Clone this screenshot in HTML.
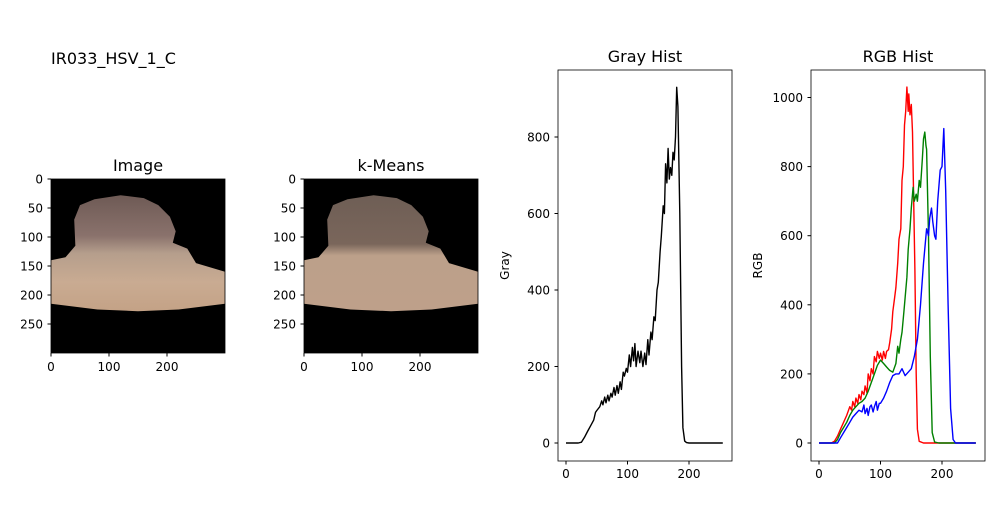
<!DOCTYPE html>
<html><head><meta charset="utf-8"><style>
body{margin:0;background:#fff;}
svg text{font-family:"DejaVu Sans","Liberation Sans",sans-serif;fill:#000;}
</style></head><body>
<svg id="fig" width="1000" height="500" viewBox="0 0 1000 500" xmlns="http://www.w3.org/2000/svg">
<defs>
<linearGradient id="skin" x1="0" y1="0" x2="0" y2="1">
<stop offset="0" stop-color="#6e5a55"/><stop offset="0.35" stop-color="#8a726c"/><stop offset="0.5" stop-color="#b59e8c"/><stop offset="0.75" stop-color="#c9ab92"/><stop offset="1" stop-color="#c4a286"/>
</linearGradient>
<linearGradient id="km" x1="0" y1="0" x2="0" y2="1">
<stop offset="0" stop-color="#6e5e55"/><stop offset="0.42" stop-color="#7a665b"/><stop offset="0.52" stop-color="#bca08a"/><stop offset="1" stop-color="#bea08a"/>
</linearGradient>
</defs>
<text x="51" y="64" font-size="16">IR033_HSV_1_C</text>
<g id="panels"></g>
</svg>
<script>
const grayBins=[0,5,10,15,20,25,30,35,40,45,48,50,55,58,60,63,65,68,70,73,75,78,80,83,85,88,90,93,95,98,100,103,105,108,110,112,114,117,120,122,125,128,130,133,135,138,140,143,145,148,150,153,155,158,160,162,164,166,168,170,172,174,176,178,180,182,185,188,190,193,196,200,220,255];
const grayVals=[0,0,0,0,0,2,15,30,45,60,80,85,95,110,100,120,105,125,110,130,120,145,125,150,130,160,140,185,175,195,185,230,200,250,215,260,200,240,210,240,200,235,205,270,230,290,270,330,320,400,420,500,540,620,600,730,680,770,690,720,700,760,740,800,930,880,600,200,40,5,1,0,0,0];
const redBins=[0,20,25,30,35,40,45,50,53,55,58,60,63,65,68,70,73,75,78,80,83,85,88,90,93,95,98,100,103,105,108,110,113,115,118,120,123,125,128,130,133,135,137,139,141,143,145,146,148,150,152,153,156,158,160,163,170,255];
const redVals=[0,0,5,20,40,60,80,105,95,120,105,130,115,140,125,150,140,165,145,200,180,215,200,250,235,265,245,260,240,265,245,265,270,290,330,380,420,450,520,590,620,760,800,920,960,1030,960,1010,950,980,900,800,500,200,40,5,0,0];
const greenBins=[0,25,30,35,40,45,50,55,60,65,70,75,80,85,90,95,100,105,110,115,120,125,128,130,133,135,138,140,143,145,148,150,153,155,158,160,163,165,168,170,172,174,175,178,181,184,188,195,255];
const greenVals=[0,0,10,30,45,60,80,95,105,115,120,130,150,175,200,225,240,230,220,210,205,230,280,260,300,320,380,420,480,560,620,680,740,700,720,700,760,740,820,880,900,860,850,600,250,30,3,0,0];
const blueBins=[0,30,35,40,45,50,55,60,65,70,73,75,78,80,83,85,88,90,93,95,98,100,105,110,115,120,125,130,135,140,145,150,155,160,165,170,175,178,180,183,185,188,190,193,197,200,203,206,210,214,218,222,255];
const blueVals=[0,0,15,30,45,60,75,85,95,90,110,85,100,80,105,110,90,105,120,95,115,115,130,150,175,195,200,200,215,195,205,215,250,300,400,520,620,600,650,680,640,600,590,700,790,800,910,730,400,100,10,0,0];
const imgTicks=[0,100,200];const imgYTicks=[0,50,100,150,200,250];
const grayYTicks=[0,200,400,600,800];const rgbYTicks=[0,200,400,600,800,1000];const histXTicks=[0,100,200];

const NS='http://www.w3.org/2000/svg';
const root=document.getElementById('panels');
function mk(tag,attrs,parent){const e=document.createElementNS(NS,tag);for(const k in attrs)e.setAttribute(k,attrs[k]);(parent||root).appendChild(e);return e;}
function txt(x,y,s,size,anchor,parent,rot){const t=mk('text',{x:x,y:y,'font-size':size,'text-anchor':anchor||'middle'},parent);if(rot)t.setAttribute('transform',rot);t.textContent=s;return t;}

function imagePanel(x0,title,fill,name){
  const g=mk('g',{});
  
  
  const s=174/300, y0=179;
  mk('rect',{x:x0,y:y0,width:174,height:174,fill:'#000'},g);
  const pts=[[0,140],[25,135],[42,115],[40,70],[50,45],[75,35],[120,28],[160,33],[185,45],[205,65],[215,90],[210,110],[235,120],[250,145],[300,160],[300,215],[220,225],[150,228],[80,225],[0,215]];
  const shape=mk('polygon',{points:pts.map(p=>(x0+p[0]*s)+','+(y0+p[1]*s)).join(' '),fill:fill},g);
  
  
  mk('rect',{x:x0,y:y0,width:174,height:174,fill:'none',stroke:'#000','stroke-width':0.8},g);
  imgTicks.forEach(v=>{const x=x0+v*s;mk('line',{x1:x,x2:x,y1:353,y2:356.5,stroke:'#000'},g);txt(x,371,v,12,'middle',g);});
  imgYTicks.forEach(v=>{const y=y0+v*s;mk('line',{x1:x0-3.5,x2:x0,y1:y,y2:y,stroke:'#000'},g);txt(x0-8,y+4.5,v,12,'end',g);});
  const t=txt(x0+87,171,title,16,'middle',g);
  
  
}
imagePanel(51,'Image','url(#skin)','image-panel');
imagePanel(304,'k-Means','url(#km)','kmeans-panel');

function histPanel(x0,title,ylabel,ymax,yTicks,series,name){
  const g=mk('g',{});
  
  
  const top=70,bot=461,w=174;
  const xs=v=>x0+8+v*(123/200);
  const y0=443;const ys=v=>y0-v*ymax;
  series.forEach(sr=>{
    const d=sr.bins.map((b,i)=>(i?'L':'M')+xs(b).toFixed(1)+','+ys(sr.vals[i]).toFixed(1)).join('');
    const p=mk('path',{d:d,fill:'none',stroke:sr.color,'stroke-width':1.4,'stroke-linejoin':'round'},g);
    
    
  });
  mk('rect',{x:x0,y:top,width:w,height:bot-top,fill:'none',stroke:'#000','stroke-width':0.8},g);
  histXTicks.forEach(v=>{const x=xs(v);mk('line',{x1:x,x2:x,y1:bot,y2:bot+3.5,stroke:'#000'},g);txt(x,bot+17,v,12,'middle',g);});
  yTicks.forEach(v=>{const y=ys(v);mk('line',{x1:x0-3.5,x2:x0,y1:y,y2:y,stroke:'#000'},g);txt(x0-8,y+4.5,v,12,'end',g);});
  const t=txt(x0+87,62,title,16,'middle',g);
  
  
  const yl=txt(0,0,ylabel,12,'middle',g,'translate('+(x0-49)+','+((top+bot)/2)+') rotate(-90)');
  
  
}
histPanel(558,'Gray Hist','Gray',0.3825,grayYTicks,[{bins:grayBins,vals:grayVals,color:'#000',name:'gray-line'}],'gray-hist');
histPanel(811,'RGB Hist','RGB',0.3455,rgbYTicks,[
 {bins:redBins,vals:redVals,color:'#ff0000',name:'red-line'},
 {bins:greenBins,vals:greenVals,color:'#008000',name:'green-line'},
 {bins:blueBins,vals:blueVals,color:'#0000ff',name:'blue-line'}],'rgb-hist');
</script>
</body></html>
